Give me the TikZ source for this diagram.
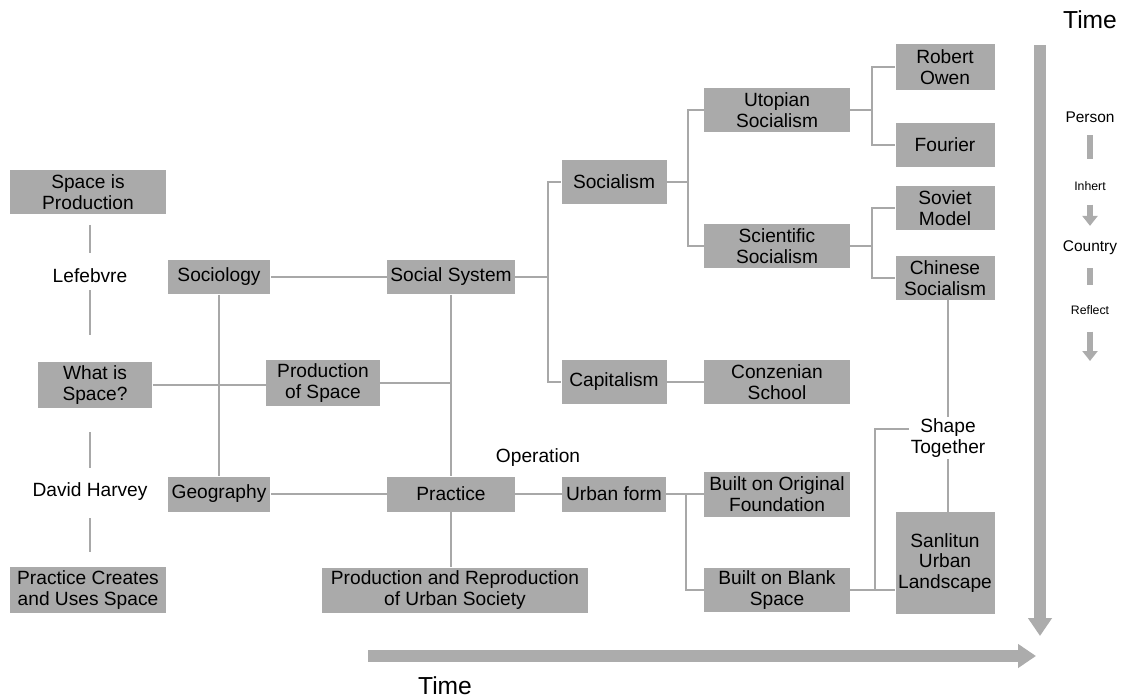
\documentclass[tikz,border=0pt]{standalone}
\usepackage{fontspec}
\setmainfont{Liberation Sans}
\usetikzlibrary{arrows.meta}
\definecolor{boxgray}{RGB}{170,170,170}
\definecolor{linegray}{RGB}{168,168,168}
\definecolor{arrowgray}{RGB}{172,172,172}
\begin{document}
\begin{tikzpicture}[x=0.02cm, y=-0.02cm,
  box/.style={fill=boxgray, align=center, inner sep=1pt, font=\fontsize{10.9}{11.6}\selectfont},
  plain/.style={align=center, inner sep=1pt, font=\fontsize{10.9}{11.6}\selectfont},
  link/.style={draw=linegray, line width=1.1pt},
  timearrow/.style={draw=arrowgray, line width=6.5pt, -{Triangle[length=0.36cm, width=0.46cm]}},
  legtext/.style={inner sep=1pt, font=\fontsize{8.8}{9}\selectfont},
  legsmall/.style={inner sep=1pt, font=\fontsize{7}{7}\selectfont},
  legbar/.style={draw=arrowgray, line width=3.2pt},
  legarrow/.style={draw=arrowgray, line width=3.2pt, -{Triangle[length=0.2cm, width=0.3cm]}}]
\useasboundingbox (0,0) rectangle (1125,699);

% left column
\node[box, minimum width=3.14cm, minimum height=0.9cm] (spacep) at (88,192) {Space is\\Production};
\node[plain] (lefebvre) at (90,276) {Lefebvre};
\node[box, minimum width=2.3cm, minimum height=0.92cm] (whatsp) at (95,385) {What is\\Space?};
\node[plain] (harvey) at (90,492) {David Harvey};
\node[box, minimum width=3.14cm, minimum height=0.92cm] (pcreates) at (88,590) {Practice Creates\\and Uses Space};

% middle
\node[box, minimum width=2.06cm, minimum height=0.7cm] (sociology) at (219,277) {Sociology};
\node[box, minimum width=2.06cm, minimum height=0.7cm] (geography) at (219,494) {Geography};
\node[box, minimum width=2.28cm, minimum height=0.92cm] (prodspace) at (323,383) {Production\\of Space};
\node[box, minimum width=2.56cm, minimum height=0.7cm] (socsys) at (451,277) {Social System};
\node[box, minimum width=2.56cm, minimum height=0.7cm] (practice) at (451,494) {Practice};
\node[box, minimum width=5.32cm, minimum height=0.9cm] (prodrep) at (455,590) {Production and Reproduction\\of Urban Society};
\node[plain] (operation) at (538,458) {Operation};
\node[box, minimum width=2.08cm, minimum height=0.7cm] (urbanform) at (614,494) {Urban form};

% social systems
\node[box, minimum width=2.1cm, minimum height=0.88cm] (socialism) at (614,182) {Socialism};
\node[box, minimum width=2.1cm, minimum height=0.88cm] (capitalism) at (614,382) {Capitalism};
\node[box, minimum width=2.92cm, minimum height=0.9cm] (utopian) at (777,110) {Utopian\\Socialism};
\node[box, minimum width=2.92cm, minimum height=0.88cm] (scientific) at (777,246) {Scientific\\Socialism};
\node[box, minimum width=2.92cm, minimum height=0.88cm] (conzen) at (777,382) {Conzenian\\School};
\node[box, minimum width=2.92cm, minimum height=0.9cm] (builtorig) at (777,494) {Built on Original\\Foundation};
\node[box, minimum width=2.92cm, minimum height=0.88cm] (builtblank) at (777,590) {Built on Blank\\Space};
\node[box, minimum width=1.98cm, minimum height=0.92cm] (owen) at (945,67) {Robert\\Owen};
\node[box, minimum width=1.98cm, minimum height=0.9cm] (fourier) at (945,145) {Fourier};
\node[box, minimum width=1.98cm, minimum height=0.88cm] (soviet) at (945,208) {Soviet\\Model};
\node[box, minimum width=1.98cm, minimum height=0.88cm] (chinese) at (945,278) {Chinese\\Socialism};
\node[plain] (shape) at (948,438) {Shape\\Together};
\node[box, minimum width=1.98cm, minimum height=2.04cm] (sanlitun) at (945,563) {Sanlitun\\Urban\\Landscape};

% left column links
\draw[link, shorten <=0.2cm, shorten >=0.28cm] (lefebvre |- spacep.south) -- (lefebvre);
\draw[link, shorten <=0.1cm, shorten >=0.54cm] (lefebvre) -- (lefebvre |- whatsp.north);
\draw[link, shorten <=0.48cm, shorten >=0.26cm] (harvey |- whatsp.south) -- (harvey);
\draw[link, shorten <=0.3cm, shorten >=0.3cm] (harvey) -- (harvey |- pcreates.north);

% middle links
\draw[link] (sociology) -- (socsys);
\draw[link] (geography) -- (practice);
\draw[link] (sociology) -- (geography);
\draw[link] (whatsp.east) -- (prodspace.west |- whatsp.east);
\draw[link] (prodspace.east) -- (prodspace.east -| socsys);
\draw[link] (socsys) -- (practice);
\draw[link] (practice) -- (practice |- prodrep.north);
\draw[link] (practice) -- (urbanform);

% branches
\coordinate (b1) at (548,277);
\draw[link] (socsys) -- (b1);
\draw[link] (b1) |- (socialism);
\draw[link] (b1) |- (capitalism);
\draw[link] (capitalism) -- (conzen);
\coordinate (b2) at (688,182);
\draw[link] (socialism) -- (b2);
\draw[link] (b2) |- (utopian);
\draw[link] (b2) |- (scientific);
\coordinate (b3) at (872,110);
\draw[link] (utopian) -- (b3);
\draw[link] (b3) |- (owen);
\draw[link] (b3) |- (fourier);
\coordinate (b4) at (872,246);
\draw[link] (scientific) -- (b4);
\draw[link] (b4) |- (soviet);
\draw[link] (b4) |- (chinese);
\coordinate (b5) at (686,494);
\draw[link] (urbanform) -- (builtorig);
\draw[link] (b5) |- (builtblank);
\coordinate (b6) at (875,590);
\draw[link] (builtblank.east) -- (builtblank.east -| sanlitun.west);
\draw[link] (b6) |- ([yshift=0.18cm]shape.west);
\draw[link] (shape |- chinese.south) -- (shape.north);
\draw[link] (shape) -- (shape |- sanlitun.north);

% time arrows
\coordinate (tv0) at (1040,45);
\coordinate (tv1) at (1040,636);
\coordinate (th0) at (368,656);
\coordinate (th1) at (1036,656);
\draw[timearrow] (tv0) -- (tv1);
\draw[timearrow] (th0) -- (th1);
\node[font=\fontsize{14}{16}\selectfont] (timev) at (1090,20) {Time};
\node[font=\fontsize{14}{16}\selectfont] (timeh) at (445,686) {Time};

% legend
\node[legtext] (person) at (1090,117) {Person};
\node[legsmall] (inhert) at (1090,186) {Inhert};
\node[legtext] (country) at (1090,248) {Country};
\node[legsmall] (reflect) at (1090,310) {Reflect};
\coordinate (legend) at (1090,361);
\draw[legbar, shorten <=0.22cm, shorten >=0.4cm] (person) -- (inhert);
\draw[legarrow, shorten <=0.24cm, shorten >=0.26cm] (inhert) -- (country);
\draw[legbar, shorten <=0.22cm, shorten >=0.36cm] (country) -- (reflect);
\draw[legarrow, shorten <=0.3cm] (reflect) -- (legend);
\end{tikzpicture}
\end{document}
